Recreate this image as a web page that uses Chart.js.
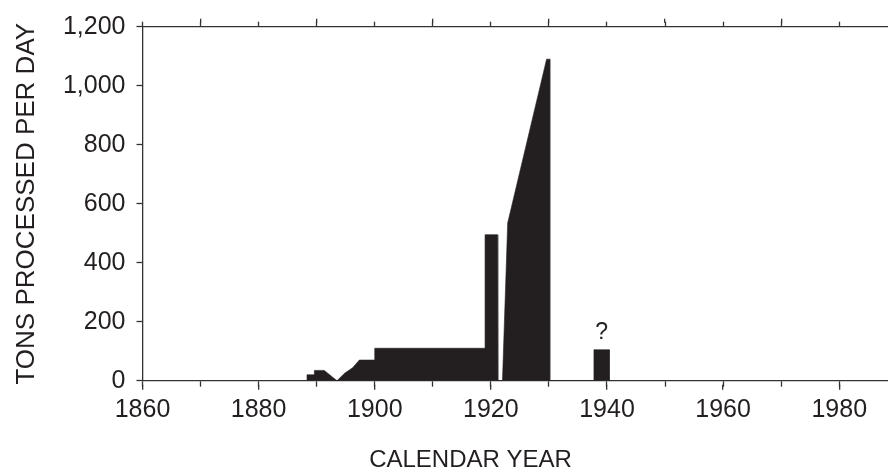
<!DOCTYPE html>
<html>
<head>
<meta charset="utf-8">
<script src="https://cdn.jsdelivr.net/npm/chart.js@4.4.1/dist/chart.umd.min.js"></script>
<style>
  html, body { margin: 0; padding: 0; background: #fff; overflow: hidden; }
  canvas { display: block; }
</style>
</head>
<body>
<canvas id="c" width="888" height="471"></canvas>
<script>
// Mill throughput outline: year, tons processed per day
const YEARS = [1888.33, 1888.33, 1889.6, 1889.6, 1891.3, 1893.5, 1894.8, 1896.2, 1897.35, 1900, 1900,
               1919.0, 1919.0, 1921.1, 1921.2, 1922.0, 1922.9, 1929.6, 1930.15, 1930.15,
               1937.75, 1937.75, 1940.4, 1940.4];
const TONS  = [0, 20, 20, 35, 35, 0, 25, 44, 70, 70, 110,
               110, 495, 495, 0, 0, 535, 1090, 1090, 0,
               0, 105, 105, 0];

// Run of uncertain operation, marked with a question mark
const UNCERTAIN_YEARS = [1937.75, 1940.4];
const UNCERTAIN_TONS = 105;
const UNCERTAIN_NOTE = '?';

// Axis ticks
const X_TICKS   = [1860, 1870, 1880, 1890, 1900, 1910, 1920, 1930, 1940, 1950, 1960, 1970, 1980];
const X_LABELED = [1860, 1880, 1900, 1920, 1940, 1960, 1980];
const Y_TICKS   = [0, 100, 200, 300, 400, 500, 600, 700, 800, 900, 1000, 1100, 1200];
const Y_LABELED = [0, 200, 400, 600, 800, 1000, 1200];

const X_TITLE = 'CALENDAR YEAR';
const Y_TITLE = 'TONS PROCESSED PER DAY';

const INK = '#231f20';
const AXIS = '#333333';
const TICK_W = 1.3;
const FONT = '"Liberation Sans", Arial, Helvetica, sans-serif';

const setTicks = list => scale => { scale.ticks = list.map(v => ({ value: v })); };
// same pixel snapping the library uses for its own tick marks
const snap = p => Math.round(p - TICK_W / 2) + TICK_W / 2;

const decor = {
  id: 'decor',
  afterDraw(chart) {
    const { ctx, chartArea, scales: { x, xTop, y } } = chart;
    ctx.save();
    ctx.strokeStyle = AXIS;
    ctx.lineWidth = TICK_W;
    ctx.lineCap = 'butt';
    ctx.beginPath();
    // longer marks at labelled years below the axis
    X_LABELED.forEach(v => {
      const px = snap(x.getPixelForValue(v));
      ctx.moveTo(px, x.top + 4);
      ctx.lineTo(px, x.top + 9);
    });
    // longer marks at the remaining decades above the top rule
    X_TICKS.filter(v => !X_LABELED.includes(v)).forEach(v => {
      const px = snap(xTop.getPixelForValue(v));
      ctx.moveTo(px, xTop.bottom - 4);
      ctx.lineTo(px, xTop.bottom - 8);
    });
    ctx.stroke();

    // question mark over the uncertain run
    ctx.fillStyle = INK;
    ctx.font = '23px ' + FONT;
    ctx.textAlign = 'center';
    ctx.textBaseline = 'alphabetic';
    const qx = x.getPixelForValue((UNCERTAIN_YEARS[0] + UNCERTAIN_YEARS[1]) / 2);
    const qy = y.getPixelForValue(UNCERTAIN_TONS) - 10.5;
    ctx.fillText(UNCERTAIN_NOTE, qx, qy);

    // horizontal axis title
    ctx.font = '24px ' + FONT;
    ctx.textBaseline = 'middle';
    ctx.fillText(X_TITLE, chartArea.left + 0.44 * (chartArea.right - chartArea.left), 460);
    ctx.restore();
  }
};

const tickFont = { family: FONT, size: 25 };

new Chart(document.getElementById('c'), {
  type: 'line',
  data: {
    datasets: [{
      data: YEARS.map((yr, i) => ({ x: yr, y: TONS[i] })),
      fill: 'origin',
      backgroundColor: INK,
      borderColor: INK,
      borderWidth: 0.6,
      pointRadius: 0,
      tension: 0
    }]
  },
  options: {
    responsive: false,
    animation: false,
    devicePixelRatio: 1,
    layout: { padding: 0 },
    plugins: { legend: { display: false }, tooltip: { enabled: false } },
    scales: {
      x: {
        type: 'linear',
        position: 'bottom',
        min: 1860,
        max: 1988.4,
        afterBuildTicks: setTicks(X_TICKS),
        afterFit: s => { s.height = 90.3; },
        ticks: {
          autoSkip: false,
          maxRotation: 0,
          padding: 8,
          color: INK,
          font: tickFont,
          callback: v => X_LABELED.includes(v) ? String(v) : ''
        },
        grid: { drawOnChartArea: false, drawTicks: true, tickLength: 6, tickColor: AXIS, tickWidth: TICK_W },
        border: { display: true, color: AXIS, width: TICK_W }
      },
      xTop: {
        type: 'linear',
        position: 'top',
        min: 1860,
        max: 1988.4,
        afterBuildTicks: setTicks(X_TICKS),
        afterFit: s => { s.height = 26.7; },
        ticks: { display: false },
        grid: { drawOnChartArea: false, drawTicks: true, tickLength: 5, tickColor: AXIS, tickWidth: TICK_W },
        border: { display: true, color: AXIS, width: TICK_W }
      },
      y: {
        type: 'linear',
        position: 'left',
        min: 0,
        max: 1200,
        afterBuildTicks: setTicks(Y_TICKS),
        afterFit: s => { s.width = 142.5; },
        ticks: {
          padding: 11,
          color: INK,
          font: tickFont,
          callback: v => Y_LABELED.includes(v) ? v.toLocaleString('en-US') : ''
        },
        grid: { drawOnChartArea: false, drawTicks: true, tickLength: 6, tickColor: AXIS, tickWidth: TICK_W },
        border: { display: true, color: AXIS, width: TICK_W },
        title: {
          display: true,
          text: Y_TITLE,
          color: INK,
          font: { family: FONT, size: 26 },
          padding: { top: 11, bottom: 0 }
        }
      }
    }
  },
  plugins: [decor]
});
</script>
</body>
</html>
